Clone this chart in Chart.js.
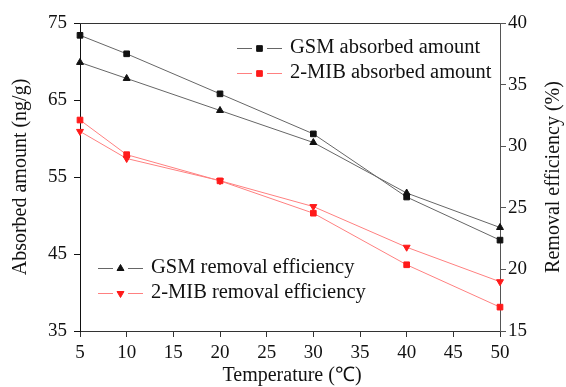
<!DOCTYPE html>
<html>
<head>
<meta charset="utf-8">
<script src="https://cdn.jsdelivr.net/npm/chart.js@4/dist/chart.umd.min.js"></script>
<style>
  html, body { margin: 0; padding: 0; background: #fff; }
  #wrap { width: 566px; height: 387px; position: relative; }
</style>
</head>
<body>
<div id="wrap"><canvas id="c" width="566" height="387"></canvas></div>
<script>
// temperature (°C)
const temps = [5, 10, 20, 30, 40, 50];

// absorbed amount (ng/g), left axis
const gsmAbsorbed = [73.4, 71.0, 65.8, 60.6, 52.4, 46.8];
const mibAbsorbed = [62.4, 57.9, 54.5, 50.3, 43.6, 38.1];

// removal efficiency (%), right axis
const gsmRemoval = [36.8, 35.5, 32.9, 30.3, 26.2, 23.4];
const mibRemoval = [31.2, 29.0, 27.2, 25.1, 21.8, 19.0];

const FONT = "'Liberation Serif', 'Times New Roman', serif";
const BLACK = '#111';
const GREY_LINE = '#666';
const RED = '#ff1a1a';
const RED_LINE = '#ff8080';

const toXY = ys => temps.map((t, i) => ({ x: t, y: ys[i] }));

const series = [
  { label: 'GSM absorbed amount', data: gsmAbsorbed, axis: 'y', style: 'rect', color: BLACK, line: GREY_LINE, rot: 0 },
  { label: '2-MIB absorbed amount', data: mibAbsorbed, axis: 'y', style: 'rect', color: RED, line: RED_LINE, rot: 0 },
  { label: 'GSM removal efficiency', data: gsmRemoval, axis: 'y2', style: 'triangle', color: BLACK, line: GREY_LINE, rot: 0 },
  { label: '2-MIB removal efficiency', data: mibRemoval, axis: 'y2', style: 'triangle', color: RED, line: RED_LINE, rot: 180 },
];

// frame, axis titles and the two legends drawn by hand
const decor = {
  id: 'decor',
  afterDraw(chart) {
    const { ctx, chartArea: a } = chart;
    ctx.save();
    ctx.strokeStyle = '#333';
    ctx.lineWidth = 1;
    ctx.beginPath();
    ctx.moveTo(a.left, a.top + 0.5);
    ctx.lineTo(a.right, a.top + 0.5);
    ctx.stroke();

    ctx.fillStyle = '#111';
    ctx.font = '20px ' + FONT;
    ctx.textAlign = 'center';
    ctx.textBaseline = 'middle';
    ctx.fillText('Temperature (\u2103)', 292, 376);

    ctx.save();
    ctx.translate(21, 177);
    ctx.rotate(-Math.PI / 2);
    ctx.fillText('Absorbed amount (ng/g)', 0, 0);
    ctx.restore();

    ctx.save();
    ctx.translate(554, 177);
    ctx.rotate(-Math.PI / 2);
    ctx.fillText('Removal efficiency (%)', 0, 0);
    ctx.restore();

    const legend = [[series[0], 237, 48], [series[1], 237, 73], [series[2], 98, 268], [series[3], 98, 293]];
    legend.forEach(([s, x, y]) => {
      ctx.save();
      ctx.strokeStyle = s.line;
      ctx.lineWidth = 1;
      ctx.beginPath();
      ctx.moveTo(x, y + 0.5); ctx.lineTo(x + 15, y + 0.5);
      ctx.moveTo(x + 30, y + 0.5); ctx.lineTo(x + 45, y + 0.5);
      ctx.stroke();
      ctx.fillStyle = s.color;
      ctx.strokeStyle = s.color;
      Chart.helpers.drawPoint(ctx, { pointStyle: s.style, radius: 4, rotation: s.rot, borderWidth: 1 }, x + 22.5, y + 0.5);
      ctx.fillStyle = '#111';
      ctx.font = '20.5px ' + FONT;
      ctx.textAlign = 'left';
      ctx.textBaseline = 'middle';
      ctx.fillText(s.label, x + 53, y);
      ctx.restore();
    });
    ctx.restore();
  }
};

const tickFont = { family: FONT, size: 19 };

new Chart(document.getElementById('c'), {
  type: 'line',
  data: {
    datasets: series.map(s => ({
      label: s.label,
      data: toXY(s.data),
      yAxisID: s.axis,
      borderColor: s.line,
      borderWidth: 1,
      backgroundColor: s.color,
      pointBackgroundColor: s.color,
      pointBorderColor: s.color,
      pointStyle: s.style,
      pointRotation: s.rot,
      pointRadius: 4,
      tension: 0,
      clip: false,
    })),
  },
  options: {
    responsive: false,
    animation: false,
    layout: { padding: { top: 23, left: 0, right: 0, bottom: 0 } },
    plugins: { legend: { display: false }, tooltip: { enabled: false } },
    scales: {
      x: {
        type: 'linear',
        min: 5, max: 50,
        ticks: { stepSize: 5, color: '#111', font: tickFont, padding: 5, maxRotation: 0 },
        grid: { drawOnChartArea: false, drawTicks: true, tickLength: 6, color: '#333' },
        border: { color: '#333', width: 1 },
        afterFit(scale) { scale.height = 56; },
      },
      y: {
        position: 'left',
        min: 35, max: 75,
        ticks: { stepSize: 10, color: '#111', font: tickFont, padding: 7 },
        grid: { drawOnChartArea: false, drawTicks: true, tickLength: 6, color: '#111' },
        border: { color: '#111', width: 1 },
        afterFit(scale) { scale.width = 80; },
      },
      y2: {
        position: 'right',
        min: 15, max: 40,
        ticks: { stepSize: 5, color: '#111', font: tickFont, padding: 2 },
        grid: { drawOnChartArea: false, drawTicks: true, tickLength: 6, color: '#555' },
        border: { color: '#555', width: 1 },
        afterFit(scale) { scale.width = 66; },
      },
    },
  },
  plugins: [decor],
});
</script>
</body>
</html>
